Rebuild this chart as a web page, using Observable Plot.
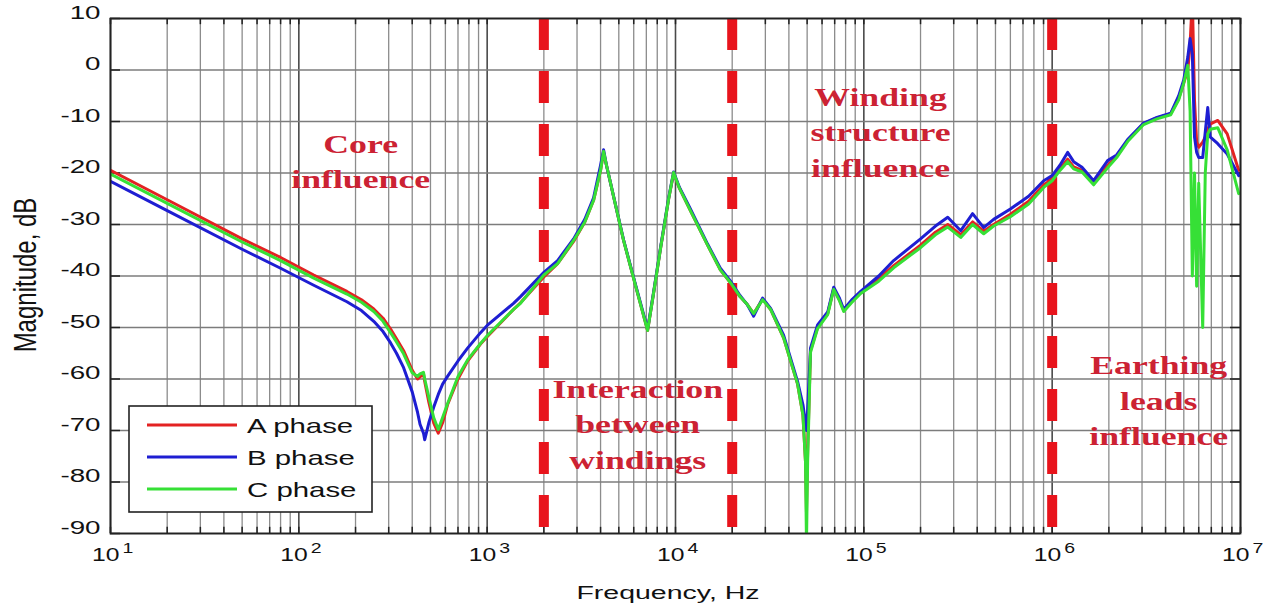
<!DOCTYPE html>
<html><head><meta charset="utf-8">
<script src="https://cdn.jsdelivr.net/npm/d3@7"></script>
<script src="https://cdn.jsdelivr.net/npm/@observablehq/plot@0.6"></script>
<style>
body{margin:0;background:#fff;}
#chart{position:relative;width:1269px;height:605px;}
</style></head><body><div id="chart"></div>
<script>
// ---- data ----
const freqHz = [10,20,50,80,120,180,215,250,280,307,330,360,400,
  427,440,459,466,490,520,550,580,616,700,
  787,922,1000,1380,1503,2000,2366,2877,3300,3673,
  4000,4150,4300,5300,6200,7110,7600,8340,9200,9770,
  10500,12000,14800,17300,19600,22000,24000,26000,29000,32000,
  37500,44500,47500,49000,49600,50300,52100,56800,64300,69200,
  74000,78200,86000,96200,120000,144000,200000,240000,279000,327000,
  378000,433000,489000,600000,750000,902000,1000000,1100000,1208000,1300000,
  1440000,1660000,1970000,2200000,2515000,3060000,3600000,4260000,4700000,4990000,
  5250000,5400000,5550000,5700000,5850000,6000000,6300000,6500000,6700000,6900000,
  7570000,8500000,9780000];
const phaseA = [-19.5,-25.2,-32.8,-36.4,-39.8,-43.0,-44.6,-46.4,-48.2,-50.3,-52.2,-54.5,-58.3,
  -60.0,-59.6,-59.0,-60.5,-64.5,-68.5,-70.5,-68.5,-65.0,-60.0,
  -56.5,-53.2,-51.8,-46.5,-45.2,-40.2,-37.6,-33.3,-29.5,-25.3,
  -19.5,-16.0,-18.5,-33.1,-42.5,-50.6,-44.0,-34.5,-25.0,-20.1,
  -23.0,-27.3,-34.0,-38.8,-41.3,-44.0,-45.5,-47.3,-44.5,-46.5,
  -52.0,-61.0,-67.0,-76.0,-86.0,-74.0,-54.5,-50.0,-47.3,-42.4,
  -44.5,-46.7,-45.0,-43.2,-40.5,-38.0,-34.0,-31.5,-30.0,-32.0,
  -29.5,-31.3,-30.0,-28.0,-25.5,-22.3,-21.2,-19.2,-17.3,-18.8,
  -19.5,-22.0,-18.5,-16.8,-13.7,-10.4,-9.3,-8.5,-5.5,-2.6,
  0.0,5.0,14.0,-6.0,-14.0,-15.0,-14.0,-13.0,-11.5,-10.5,
  -9.8,-12.4,-19.5];
const phaseB = [-21.6,-27.3,-34.8,-38.5,-41.8,-45.0,-46.7,-48.8,-50.8,-53.0,-55.0,-57.8,-62.5,
  -66.5,-68.8,-70.5,-71.8,-68.5,-65.5,-63.0,-61.0,-59.5,-56.5,
  -54.0,-51.0,-49.6,-45.3,-44.0,-39.3,-37.0,-32.8,-29.0,-24.8,
  -18.5,-15.5,-18.5,-33.0,-42.3,-50.3,-43.8,-34.3,-24.8,-19.8,
  -22.8,-27.0,-33.8,-38.5,-41.0,-43.8,-45.5,-47.8,-44.3,-46.3,
  -51.5,-60.5,-65.0,-68.5,-70.0,-66.0,-54.0,-49.5,-47.0,-42.2,
  -44.2,-46.5,-44.7,-43.0,-40.0,-37.0,-32.8,-30.3,-28.6,-31.2,
  -27.9,-30.6,-29.0,-27.0,-24.5,-21.5,-20.5,-18.5,-16.0,-17.8,
  -18.9,-21.5,-17.6,-16.5,-13.5,-10.3,-9.2,-8.4,-5.0,-2.0,
  2.5,6.1,3.0,-13.0,-16.0,-17.0,-17.0,-12.0,-7.3,-13.0,
  -14.3,-16.3,-20.5];
const phaseC = [-20.2,-25.9,-33.4,-37.0,-40.4,-43.5,-45.1,-46.9,-48.8,-51.0,-52.8,-55.1,-58.8,
  -59.5,-59.0,-58.7,-60.0,-63.5,-67.5,-69.8,-67.5,-64.8,-59.5,
  -56.3,-53.1,-51.6,-46.5,-45.3,-39.8,-37.6,-33.1,-29.5,-25.3,
  -19.5,-15.8,-18.5,-33.1,-42.5,-50.6,-44.0,-34.5,-25.0,-19.9,
  -23.0,-27.3,-34.0,-38.8,-41.3,-44.0,-45.5,-47.3,-44.6,-46.5,
  -52.0,-61.0,-67.0,-76.0,-92.0,-76.0,-54.8,-50.2,-47.5,-42.6,
  -44.7,-46.9,-45.2,-43.4,-41.0,-38.4,-34.5,-32.0,-30.5,-32.5,
  -30.0,-31.8,-30.3,-28.5,-26.0,-22.8,-21.5,-19.5,-17.8,-19.2,
  -19.8,-22.3,-19.0,-17.0,-13.9,-10.6,-9.5,-8.7,-5.8,-2.6,
  0.9,-8.0,-40.0,-20.0,-42.0,-22.0,-50.0,-20.0,-12.4,-11.5,
  -11.2,-15.5,-24.0];
const seriesNames = ["A phase","B phase","C phase"];
const seriesColors = ["#e32222","#1e1ed2","#36e036"];
const decadeTicks = [1e1,1e2,1e3,1e4,1e5,1e6,1e7];
const decadeExponents = ["1","2","3","4","5","6","7"];
const dbTicks = [-90,-80,-70,-60,-50,-40,-30,-20,-10,0,10];
const boundaryFreqs = [2000, 20000, 1000000];
const regionLabels = ["Core\ninfluence","Interaction\nbetween\nwindings","Winding\nstructure\ninfluence","Earthing\nleads\ninfluence"];
const regionFreqs = [213, 6300, 122700, 3680000];
const regionDb = [-17.3, -68.3, -11.6, -63.8];
const xLabel = "Frequency, Hz";
const yLabel = "Magnitude, dB";

// ---- build table ----
const rows = [];
[phaseA, phaseB, phaseC].forEach((vals, k) =>
  vals.forEach((v, i) => rows.push({f: freqHz[i], db: v, phase: seriesNames[k]})));
const minorTicks = decadeTicks.slice(0, -1).flatMap(d => [2,3,4,5,6,7,8,9].map(m => d * m));

const sans = "'Liberation Sans', Arial, Helvetica, sans-serif";
const serif = "'Liberation Serif', 'Times New Roman', serif";

const svg = Plot.plot({
  width: 1269, height: 605,
  marginLeft: 110, marginRight: 29, marginTop: 18, marginBottom: 72,
  style: {fontFamily: sans, fontSize: "19px", color: "#000", background: "#fff", overflow: "visible"},
  x: {type: "log", domain: [10, 1e7], axis: null},
  y: {domain: [-90, 10], axis: null},
  color: {domain: seriesNames, range: seriesColors},
  marks: [
    Plot.ruleX(minorTicks, {stroke: "#8c8c8c", strokeWidth: 1.3}),
    Plot.ruleX(decadeTicks, {stroke: "#4a4a4a", strokeWidth: 1.6}),
    Plot.ruleY(dbTicks, {stroke: "#7c7c7c", strokeWidth: 1.3}),
    // inward tick marks on the frame
    Plot.ruleX(minorTicks.concat(decadeTicks), {y1: -90, y2: -88.8, stroke: "#222", strokeWidth: 1.5}),
    Plot.ruleX(minorTicks.concat(decadeTicks), {y1: 8.8, y2: 10, stroke: "#222", strokeWidth: 1.5}),
    Plot.ruleY(dbTicks, {x1: 10, x2: 11.3, stroke: "#222", strokeWidth: 1.5}),
    Plot.ruleY(dbTicks, {x1: 8.85e6, x2: 1e7, stroke: "#222", strokeWidth: 1.5}),
    Plot.ruleX(boundaryFreqs, {stroke: "#e8141c", strokeWidth: 10, strokeDasharray: "32,21"}),
    Plot.text(regionLabels, {x: (d, i) => regionFreqs[i], y: (d, i) => regionDb[i], text: d => d,
      fill: "#cc2233", fontFamily: serif, fontWeight: "bold", fontSize: 25, lineHeight: 1.42}),
    Plot.line(rows, {x: "f", y: "db", z: "phase", stroke: "phase", strokeWidth: 3,
      strokeLinejoin: "round", clip: true}),
    Plot.frame({stroke: "#222", strokeWidth: 1.8}),
    Plot.text(decadeTicks, {x: d => d, frameAnchor: "bottom", text: () => "10", textAnchor: "end",
      dx: 9, dy: 27, fontSize: 19, fill: "#111"}),
    Plot.text(decadeTicks, {x: d => d, frameAnchor: "bottom", text: (d, i) => decadeExponents[i],
      textAnchor: "start", dx: 12, dy: 19, fontSize: 15, fill: "#111"}),
    Plot.text(dbTicks, {y: d => d, frameAnchor: "left", text: d => String(d), textAnchor: "end",
      dx: -10, fontSize: 18.5, fill: "#111"})
  ]
});
document.getElementById("chart").appendChild(svg);

// horizontal stretch of text (reference picture is widened)
function stretch(el, sx) {
  const t = el.getAttribute("transform") || "";
  const x = +el.getAttribute("x") || 0, y = +el.getAttribute("y") || 0;
  el.removeAttribute("x"); el.removeAttribute("y");
  el.setAttribute("transform", `${t} translate(${x},${y}) scale(${sx},1)`);
}
const textGroups = svg.querySelectorAll('g[aria-label="text"]');
const scales = [1.43, 1.3, 1.3, 1.5];
textGroups.forEach((g, k) => g.querySelectorAll("text").forEach(t => stretch(t, scales[k] || 1)));

const s = d3.select(svg);
// axis labels
s.append("text").attr("transform", "translate(668,592) scale(1.5,1)")
  .attr("text-anchor", "middle").attr("dy", "0.35em")
  .attr("font-family", sans).attr("font-size", 19).attr("fill", "#111").text(xLabel);
s.append("text").attr("transform", "translate(25,275) rotate(-90) scale(1,1.3)")
  .attr("text-anchor", "middle").attr("dy", "0.35em")
  .attr("font-family", sans).attr("font-size", 24).attr("fill", "#111").text(yLabel);

// legend
const lg = s.append("g");
lg.append("rect").attr("x", 129).attr("y", 406).attr("width", 243).attr("height", 106)
  .attr("fill", "#fff").attr("stroke", "#222").attr("stroke-width", 1.6);
seriesNames.forEach((name, i) => {
  const yy = 425 + i * 32;
  lg.append("line").attr("x1", 147).attr("x2", 237).attr("y1", yy).attr("y2", yy)
    .attr("stroke", seriesColors[i]).attr("stroke-width", 3);
  lg.append("text").attr("transform", `translate(247,${yy}) scale(1.4,1)`).attr("dy", "0.36em")
    .attr("text-anchor", "start")
    .attr("font-family", sans).attr("font-size", 21).attr("fill", "#111").text(name);
});
</script></body></html>
